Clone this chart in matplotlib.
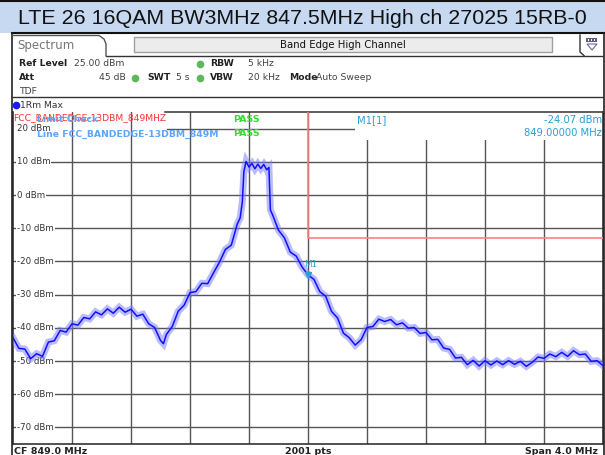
import matplotlib
matplotlib.use("Agg")
import matplotlib.pyplot as plt
from matplotlib.patches import Rectangle, Polygon
import numpy as np

# trace (MHz, dBm)
freq_mhz = [847.00, 847.04, 847.08, 847.12, 847.16, 847.20, 847.24, 847.28, 847.32, 847.36,
            847.40, 847.44, 847.48, 847.52, 847.56, 847.60, 847.64, 847.68, 847.72, 847.76,
            847.80, 847.84, 847.88, 847.92, 847.96, 848.00, 848.02, 848.04, 848.08, 848.12,
            848.16, 848.20, 848.24, 848.28, 848.32, 848.36, 848.40, 848.44, 848.48, 848.52,
            848.54, 848.555, 848.565, 848.58, 848.60, 848.62, 848.64, 848.66, 848.68, 848.70,
            848.72, 848.735, 848.745, 848.76, 848.80, 848.84, 848.88, 848.92, 848.96, 849.00,
            849.04, 849.08, 849.12, 849.16, 849.20, 849.24, 849.28, 849.32, 849.36, 849.40,
            849.44, 849.48, 849.52, 849.56, 849.60, 849.64, 849.68, 849.72, 849.76, 849.80,
            849.84, 849.88, 849.92, 849.96, 850.00, 850.04, 850.08, 850.12, 850.16, 850.20,
            850.24, 850.28, 850.32, 850.36, 850.40, 850.44, 850.48, 850.52, 850.56, 850.60,
            850.64, 850.68, 850.72, 850.76, 850.80, 850.84, 850.88, 850.92, 850.96, 851.00]
level_dbm = [-43.0, -46.2, -46.4, -49.3, -47.8, -48.6, -44.3, -43.9, -40.8, -41.3,
             -38.8, -39.2, -36.9, -37.3, -35.2, -36.1, -34.3, -35.6, -33.8, -35.3,
             -34.4, -36.5, -35.9, -38.8, -39.9, -43.8, -44.8, -42.0, -39.6, -35.0,
             -33.2, -29.4, -29.1, -26.6, -26.7, -23.4, -20.2, -16.4, -15.1, -8.8,
             -6.9, -2.0, 7.0, 10.1, 8.4, 9.5, 7.9, 9.3, 8.0, 9.2,
             7.6, 8.3, -4.5, -6.0, -10.6, -12.9, -17.2, -18.4, -21.7, -24.07,
             -25.4, -29.1, -30.5, -35.1, -37.0, -41.6, -43.0, -45.2, -43.6, -39.9,
             -39.6, -37.4, -38.1, -37.5, -39.1, -38.5, -40.1, -39.9, -41.7, -41.4,
             -43.6, -43.5, -46.1, -46.5, -49.1, -48.9, -51.1, -49.8, -51.5, -49.9,
             -51.2, -50.0, -51.1, -49.9, -51.0, -50.1, -51.6, -50.4, -48.8, -49.2,
             -47.9, -48.7, -47.4, -48.6, -46.9, -48.1, -47.9, -50.1, -49.9, -51.4]

level_ticks = [20, 10, 0, -10, -20, -30, -40, -50, -60, -70]
level_labels = ["20 dBm", "10 dBm", "0 dBm", "-10 dBm", "-20 dBm", "-30 dBm",
                "-40 dBm", "-50 dBm", "-60 dBm", "-70 dBm"]
freq_grid = [847.4, 847.8, 848.2, 848.6, 849.0, 849.4, 849.8, 850.2, 850.6]

limit_freq = [849.0, 849.0, 851.0]
limit_dbm = [25.0, -13.0, -13.0]
marker_freq = 849.0
marker_dbm = -24.07

title = "LTE 26 16QAM BW3MHz 847.5MHz High ch 27025 15RB-0"

W, H = 605, 455
fig = plt.figure(figsize=(W / 100, H / 100), dpi=100)
fig.patch.set_facecolor("white")

# overlay in pixel coords for the instrument chrome
ov = fig.add_axes([0, 0, 1, 1])
ov.set_xlim(0, W)
ov.set_ylim(H, 0)
ov.axis("off")

ov.add_patch(Rectangle((0, 2), W, 31, fc="#c6d9f1", ec="none"))
ov.plot([0, W], [1, 1], color="#111", lw=1.5)
ov.plot([12, W], [33, 33], color="#111", lw=1.5)
ov.text(W / 2, 18.5, title, ha="center", va="center", fontsize=15.4,
        family="Liberation Sans", color="#111")

ov.plot([12, 12], [33, H], color="#222", lw=1.2)
ov.plot([603.5, 603.5], [33, H], color="#222", lw=1.2)

# tab
ov.plot([13, 99, 104, 106, 106], [35.5, 35.5, 39, 44, 55.5], color="#555", lw=1)
ov.plot([106, 603], [55.5, 55.5], color="#333", lw=1)
ov.text(17, 46, "Spectrum", fontsize=8.5, color="#777", va="center")
ov.add_patch(Rectangle((134, 36.5), 418, 15.5, fc="#ececec", ec="#a0a0a0", lw=1))
ov.text(343, 44.5, "Band Edge High Channel", fontsize=7.3, ha="center", va="center", color="#111")

# icon
ov.plot([580, 580, 584], [35, 52, 55.5], color="#333", lw=1)
ov.add_patch(Rectangle((586, 38), 11, 4, fc="#5c5c8a", ec="none"))
for dx in (588.5, 591.5, 594.5):
    ov.add_patch(Rectangle((dx - 0.7, 39.3), 1.4, 1.4, fc="white", ec="none"))
ov.add_patch(Polygon([[587, 44], [597, 44], [592, 50]], closed=True, fc="none", ec="#6a6a9a", lw=0.8))

# settings block
hs = 6.7
bold = dict(fontsize=hs, weight="bold", color="#222", va="center")
norm = dict(fontsize=hs, color="#444", va="center")
dot = "#5cb85c"
ov.text(19, 63.5, "Ref Level", **bold)
ov.text(74, 63.5, "25.00 dBm", **norm)
ov.text(19, 78, "Att", **bold)
ov.text(126, 78, "45 dB", ha="right", **norm)
ov.text(147, 78, "SWT", **bold)
ov.text(176, 78, "5 s", **norm)
ov.text(210, 63.5, "RBW", **bold)
ov.text(248, 63.5, "5 kHz", **norm)
ov.text(210, 78, "VBW", **bold)
ov.text(248, 78, "20 kHz", **norm)
ov.text(289, 78, "Mode", **bold)
ov.text(316, 78, "Auto Sweep", **norm)
ov.text(19, 91, "TDF", **norm)
ov.plot([135, 200, 200], [78, 78, 63.5], ls="none", marker="o", ms=4.5, color=dot)
ov.plot([12, 603], [96.5, 96.5], color="#333", lw=1)
ov.plot([16], [105], marker="o", ms=4.5, color="#1a1aff", ls="none")
ov.text(20, 105, "1Rm Max", fontsize=6.6, color="#333", va="center")

# bottom bar
ov.text(14, 446.5, "CF 849.0 MHz", fontsize=6.8, weight="bold", color="#222", va="top")
ov.text(308, 446.5, "2001 pts", fontsize=6.8, weight="bold", color="#222", va="top", ha="center")
ov.text(598, 446.5, "Span 4.0 MHz", fontsize=6.8, weight="bold", color="#222", va="top", ha="right")

# diagram
x0, x1, ytop, ybot = 13, 603, 112, 444
ax = fig.add_axes([x0 / W, (H - ybot) / H, (x1 - x0) / W, (ybot - ytop) / H])
ax.set_xlim(847.0, 851.0)
ax.set_ylim(-75, 25)
ax.set_xticks([])
ax.set_yticks([])
for side in ("left", "right", "bottom"):
    ax.spines[side].set_color("#222")
    ax.spines[side].set_linewidth(1.1)
ax.spines["top"].set_visible(False)


def fx(px):
    return (px - x0) / (x1 - x0)


def fy(py):
    return (ybot - py) / (ybot - ytop)


# top border only right of the limit label
ax.plot([fx(165), 1], [1, 1], transform=ax.transAxes, color="#333", lw=1.1, clip_on=False, zorder=3)

gcol = "#555"
for f in freq_grid:
    ax.axvline(f, color=gcol, lw=1.0, zorder=1)
for lv, lab in zip(level_ticks, level_labels):
    if lv == 20:
        ax.axhline(lv, xmin=fx(167), xmax=1, color=gcol, lw=1.0, zorder=1)
    else:
        ax.axhline(lv, color=gcol, lw=1.0, zorder=1)
    ax.text(fx(17), lv, lab, transform=ax.get_yaxis_transform(), fontsize=6.2,
            color="#333", va="center", ha="left", zorder=3,
            bbox=dict(fc="white", ec="none", pad=0.6))

# marker info box hides the grid in the top-right corner
ax.add_patch(Rectangle((fx(355), fy(140)), 1 - fx(355), 1 - fy(140), transform=ax.transAxes,
                       fc="white", ec="none", zorder=2))

ax.plot(limit_freq, limit_dbm, color="#ff8080", lw=1.2, zorder=4)

ax.plot(freq_mhz, level_dbm, color="#7878ff", lw=5.0, alpha=0.5, zorder=5, solid_joinstyle="miter")
ax.plot(freq_mhz, level_dbm, color="#1010ff", lw=1.1, zorder=6)

mcol = "#2a9fd6"
ax.plot([marker_freq], [marker_dbm], marker="v", ms=5, color=mcol, zorder=7)
ax.annotate("M1", (marker_freq, marker_dbm), xytext=(2, 4), textcoords="offset points",
            ha="center", va="bottom", fontsize=6.3, color=mcol, zorder=7)

# limit check legend
ax.text(fx(13), fy(117.5), "FCC_BANDEDGE-13DBM_849MHZ", transform=ax.transAxes, fontsize=6.6,
        color="#ff3333", va="center", zorder=7)
lim_kw = dict(transform=ax.transAxes, fontsize=6.7, weight="bold", color="#5aa5ff", va="center", zorder=8)
ax.text(fx(37), fy(120), "Limit Check", **lim_kw)
ax.text(fx(37), fy(134), "Line FCC_BANDEDGE-13DBM_849M", **lim_kw)
pass_kw = dict(transform=ax.transAxes, fontsize=6.8, weight="bold", color="#33dd33", va="center", zorder=8)
ax.text(fx(233), fy(120), "PASS", **pass_kw)
ax.text(fx(233), fy(134), "PASS", **pass_kw)

# marker readout
mk_kw = dict(transform=ax.transAxes, fontsize=7.2, color=mcol, va="center", zorder=8)
ax.text(fx(357), fy(120), "M1[1]", **mk_kw)
ax.text(fx(602), fy(120), "-24.07 dBm", ha="right", **mk_kw)
ax.text(fx(602), fy(133), "849.00000 MHz", ha="right", **mk_kw)

fig.savefig("out.png", dpi=100, facecolor="white")
